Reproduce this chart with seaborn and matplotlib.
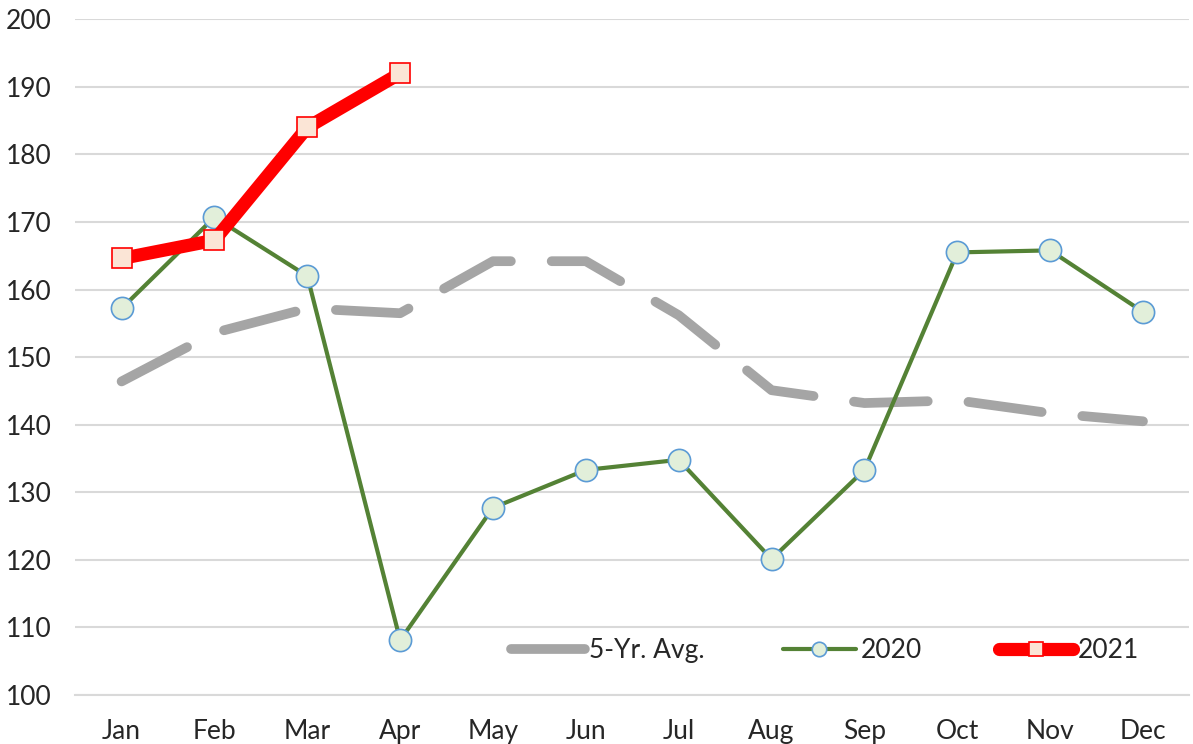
"""
Monthly index: 5-year average vs 2020 vs 2021 (Excel-style line chart)
"""
import matplotlib
matplotlib.use("Agg")
import matplotlib.pyplot as plt
import numpy as np
import pandas as pd
import seaborn as sns

months = ["Jan", "Feb", "Mar", "Apr", "May", "Jun",
          "Jul", "Aug", "Sep", "Oct", "Nov", "Dec"]
avg_5yr = [146.4, 153.6, 157.2, 156.5, 164.2, 164.2,
           156.2, 145.1, 143.2, 143.6, 141.7, 140.5]
y2020 = [157.2, 170.7, 162.0, 108.1, 127.7, 133.3,
         134.8, 120.1, 133.3, 165.5, 165.8, 156.7]
y2021 = [164.6, 167.3, 184.0, 192.0]

sns.set_style("white")
plt.rcParams["font.family"] = ["Lato", "DejaVu Sans"]

fig = plt.figure(figsize=(11.93, 7.44), dpi=100)
ax = fig.add_axes([0.063, 0.066, 0.934, 0.908])

pos = np.arange(len(months))
df_avg = pd.DataFrame({"x": pos, "y": avg_5yr})
df_20 = pd.DataFrame({"x": pos, "y": y2020})
df_21 = pd.DataFrame({"x": pos[:len(y2021)], "y": y2021})

sns.lineplot(data=df_avg, x="x", y="y", ax=ax, color="#A5A5A5", lw=7,
             dashes=False, label="5-Yr. Avg.", zorder=2)
ax.lines[-1].set_dashes([7.6, 4.2])
ax.lines[-1].set_dash_capstyle("round")
ax.lines[-1].set_solid_capstyle("round")

sns.lineplot(data=df_20, x="x", y="y", ax=ax, color="#548235", lw=3,
             marker="o", markersize=16, markerfacecolor="#E2EFDA",
             markeredgecolor="#5B9BD5", markeredgewidth=1.2,
             label="2020", zorder=3)

sns.lineplot(data=df_21, x="x", y="y", ax=ax, color="#FF0000", lw=9.5,
             marker="s", markersize=15, markerfacecolor="#FBE5D6",
             markeredgecolor="#FF0000", markeredgewidth=1.2,
             label="2021", zorder=4)
ax.lines[-1].set_solid_capstyle("round")

ax.set_xlim(-0.5, 11.5)
ax.set_ylim(100, 200)
ax.set_yticks(np.arange(100, 201, 10))
ax.set_xticks(pos)
ax.set_xticklabels(months)
ax.set_xticks(np.arange(-0.5, 12, 1), minor=True)
ax.set_xlabel("")
ax.set_ylabel("")

ax.yaxis.grid(True, color="#D9D9D9", lw=1.5)
ax.set_axisbelow(True)
for s in ["top", "right", "left"]:
    ax.spines[s].set_visible(False)
ax.spines["bottom"].set_color("#D9D9D9")
ax.spines["bottom"].set_linewidth(1.5)

ax.tick_params(axis="x", which="major", length=0, pad=17, labelsize=19)
ax.tick_params(axis="x", which="minor", length=7, width=1.5, color="#D9D9D9")
ax.tick_params(axis="y", length=0, pad=17, labelsize=19)

leg = ax.legend(loc="center left", bbox_to_anchor=(0.37, 0.065), ncol=3,
                frameon=False, fontsize=19, handlelength=2.8,
                handletextpad=0.15, columnspacing=2.95, markerscale=0.65)
for h in leg.get_lines():
    h.set_solid_capstyle("round")
    h.set_dash_capstyle("round")

fig.savefig("out.png", dpi=100)
